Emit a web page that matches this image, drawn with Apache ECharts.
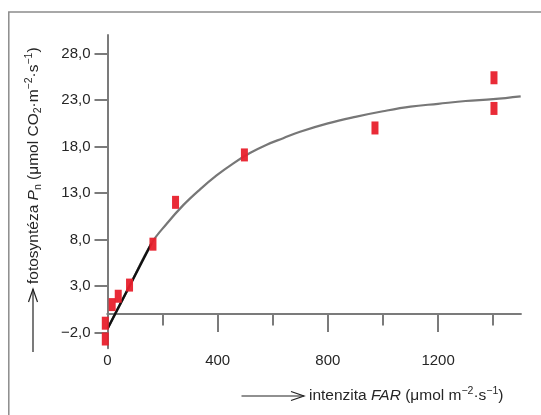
<!DOCTYPE html>
<html>
<head>
<meta charset="utf-8">
<script src="https://cdn.jsdelivr.net/npm/echarts@6/dist/echarts.min.js"></script>
<style>html,body{margin:0;padding:0;background:#fff}#c{width:541px;height:415px}</style>
</head>
<body>
<div id="c"></div>
<script>
// ---- data ----
const xLabelTicks = [0, 400, 800, 1200];
const xMinorTicks = [200, 600, 1000, 1400];
const yTicks = [-2, 3, 8, 13, 18, 23, 28];

// measured points (red rectangles)
const measX = [-8, -8, 17, 39, 80, 165, 247, 497, 971, 1403, 1403];
const measY = [-2.7, -1.0, 1.0, 1.9, 3.1, 7.5, 12.0, 17.1, 20.0, 22.1, 25.4];

// fitted saturation curve (gray)
const fitX = [0, 80, 160, 215, 275, 336, 396, 457, 517, 578, 638, 699, 800, 900, 1000, 1100, 1200, 1300, 1400, 1500];
const fitY = [-1.6, 3.0, 7.6, 9.7, 11.7, 13.4, 14.9, 16.2, 17.3, 18.2, 18.9, 19.6, 20.5, 21.2, 21.8, 22.3, 22.6, 22.9, 23.1, 23.4];

// initial linear slope (black)
const initX = [0, 160];
const initY = [-1.6, 7.6];

const FONT = '"Liberation Sans", Arial, Helvetica, sans-serif';
const AX = '#7b7b7b';
const TXT = '#262626';
const GRID_BOTTOM = 66.7;
const Y_MIN = -3.7, Y_MAX = 30;

function fmt(v) { return (v < 0 ? '\u2212' : '') + Math.abs(v).toFixed(1).replace('.', ','); }
const zip = (a, b) => a.map((v, i) => [v, b[i]]);

const chart = echarts.init(document.getElementById('c'), null, {renderer: 'canvas'});
// offset of the x axis from the grid bottom so it sits on y = 0
const plotH = 415 - 35 - GRID_BOTTOM;
const zeroOffset = -plotH * (0 - Y_MIN) / (Y_MAX - Y_MIN);

const NF = 15.5;
const rich = {
  i: {fontStyle: 'italic', fontSize: NF, fontFamily: FONT, color: TXT, lineHeight: 20},
  s: {fontSize: 10.5, fontFamily: FONT, color: TXT, lineHeight: 20, verticalAlign: 'bottom', padding: [6, 0, 0, 0]},
  p: {fontSize: 10.5, fontFamily: FONT, color: TXT, lineHeight: 20, verticalAlign: 'top', padding: [0, 0, 6, 0]}
};
chart.setOption({
  animation: false,
  backgroundColor: '#fff',
  grid: {left: 107.5, right: 20.3, top: 35, bottom: GRID_BOTTOM, containLabel: false},
  xAxis: [{
    type: 'value', min: 0, max: 1500, position: 'bottom', offset: zeroOffset,
    axisLine: {onZero: false, lineStyle: {color: AX, width: 2}},
    axisTick: {show: true, customValues: xLabelTicks, length: 18, lineStyle: {color: AX, width: 2}},
    axisLabel: {customValues: xLabelTicks, margin: 39, fontSize: 15, fontFamily: FONT, color: TXT,
      formatter: v => String(v)},
    splitLine: {show: false}
  }, {
    type: 'value', min: 0, max: 1500, position: 'bottom', offset: zeroOffset,
    axisLine: {onZero: false, lineStyle: {color: AX, width: 2}},
    axisTick: {show: true, customValues: xMinorTicks, length: 11.5, lineStyle: {color: AX, width: 2}},
    axisLabel: {show: false},
    splitLine: {show: false}
  }],
  yAxis: {
    type: 'value', min: Y_MIN, max: Y_MAX,
    axisLine: {show: true, onZero: false, lineStyle: {color: AX, width: 2}},
    axisTick: {show: true, customValues: yTicks, length: 13, lineStyle: {color: AX, width: 2}},
    axisLabel: {customValues: yTicks, margin: 17, fontSize: 15, fontFamily: FONT, color: TXT, formatter: fmt},
    splitLine: {show: false}
  },
  series: [{
    type: 'line', data: zip(fitX, fitY), smooth: 0.4, showSymbol: false, symbol: 'none',
    lineStyle: {color: '#777', width: 2.2}, z: 2
  }, {
    type: 'line', data: zip(initX, initY), showSymbol: false, symbol: 'none',
    lineStyle: {color: '#111', width: 2.5}, z: 3
  }, {
    type: 'scatter', data: zip(measX, measY), symbol: 'rect', symbolSize: [7, 13], clip: false,
    itemStyle: {color: '#e8202c', opacity: 0.95}, z: 4
  }],
  graphic: [
    {type: 'polyline', silent: true, shape: {points: [[8.8, 415], [8.8, 12], [541, 12]]},
     style: {stroke: '#8c8c8c', lineWidth: 1.5, fill: null}},
    // y name arrow
    {type: 'line', silent: true, shape: {x1: 33, y1: 352, x2: 33, y2: 289}, style: {stroke: '#222', lineWidth: 1.2}},
    {type: 'polyline', silent: true, shape: {points: [[28.5, 302], [33, 289], [37.5, 302]]}, style: {stroke: '#222', lineWidth: 1.2, fill: null}},
    {type: 'text', silent: true, x: 33.5, y: 284, rotation: Math.PI / 2,
     style: {text: 'fotosyntéza {i|P}{s|n} (μmol CO{s|2}·m{p|\u22122}·s{p|\u22121})', fontSize: NF, fontFamily: FONT,
       fill: TXT, align: 'left', verticalAlign: 'middle', lineHeight: 20, rich: rich}},
    // x name arrow
    {type: 'line', silent: true, shape: {x1: 241.5, y1: 396, x2: 304, y2: 396}, style: {stroke: '#222', lineWidth: 1.2}},
    {type: 'polyline', silent: true, shape: {points: [[291, 391.5], [304, 396], [291, 400.5]]}, style: {stroke: '#222', lineWidth: 1.2, fill: null}},
    {type: 'text', silent: true, x: 309, y: 396,
     style: {text: 'intenzita {i|FAR} (μmol m{p|\u22122}·s{p|\u22121})', fontSize: NF, fontFamily: FONT,
       fill: TXT, align: 'left', verticalAlign: 'middle', lineHeight: 20, rich: rich}}
  ]
});
</script>
</body>
</html>
